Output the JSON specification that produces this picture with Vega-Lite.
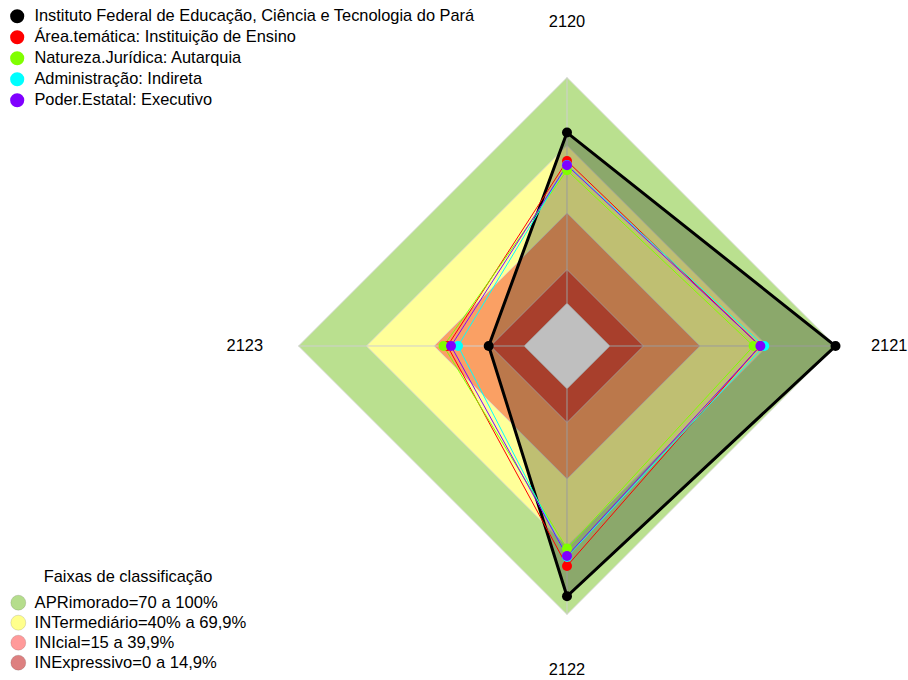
{
  "$schema": "https://vega.github.io/schema/vega-lite/v6.json",
  "width": 908,
  "height": 680,
  "autosize": {"type": "none"},
  "padding": 0,
  "background": "white",
  "config": {"view": {"stroke": null}, "font": "Liberation Sans"},
  "datasets": {
    "faixas": [
      {"faixa": "APR", "eixo": "2120", "limite": 100},
      {"faixa": "APR", "eixo": "2121", "limite": 100},
      {"faixa": "APR", "eixo": "2122", "limite": 100},
      {"faixa": "APR", "eixo": "2123", "limite": 100},
      {"faixa": "INT", "eixo": "2120", "limite": 69.9},
      {"faixa": "INT", "eixo": "2121", "limite": 69.9},
      {"faixa": "INT", "eixo": "2122", "limite": 69.9},
      {"faixa": "INT", "eixo": "2123", "limite": 69.9},
      {"faixa": "INI", "eixo": "2120", "limite": 39.9},
      {"faixa": "INI", "eixo": "2121", "limite": 39.9},
      {"faixa": "INI", "eixo": "2122", "limite": 39.9},
      {"faixa": "INI", "eixo": "2123", "limite": 39.9},
      {"faixa": "INE", "eixo": "2120", "limite": 14.9},
      {"faixa": "INE", "eixo": "2121", "limite": 14.9},
      {"faixa": "INE", "eixo": "2122", "limite": 14.9},
      {"faixa": "INE", "eixo": "2123", "limite": 14.9},
      {"faixa": "centro", "eixo": "2120", "limite": 0},
      {"faixa": "centro", "eixo": "2121", "limite": 0},
      {"faixa": "centro", "eixo": "2122", "limite": 0},
      {"faixa": "centro", "eixo": "2123", "limite": 0}
    ],
    "series": [
      {"serie": "Instituto Federal de Educação, Ciência e Tecnologia do Pará", "eixo": "2120", "valor": 75.6},
      {"serie": "Instituto Federal de Educação, Ciência e Tecnologia do Pará", "eixo": "2121", "valor": 100},
      {"serie": "Instituto Federal de Educação, Ciência e Tecnologia do Pará", "eixo": "2122", "valor": 91.9},
      {"serie": "Instituto Federal de Educação, Ciência e Tecnologia do Pará", "eixo": "2123", "valor": 15.7},
      {"serie": "Área.temática: Instituição de Ensino", "eixo": "2120", "valor": 63.0},
      {"serie": "Área.temática: Instituição de Ensino", "eixo": "2121", "valor": 66.5},
      {"serie": "Área.temática: Instituição de Ensino", "eixo": "2122", "valor": 78.5},
      {"serie": "Área.temática: Instituição de Ensino", "eixo": "2123", "valor": 34.0},
      {"serie": "Natureza.Jurídica: Autarquia", "eixo": "2120", "valor": 58.9},
      {"serie": "Natureza.Jurídica: Autarquia", "eixo": "2121", "valor": 63.7},
      {"serie": "Natureza.Jurídica: Autarquia", "eixo": "2122", "valor": 70.8},
      {"serie": "Natureza.Jurídica: Autarquia", "eixo": "2123", "valor": 35.7},
      {"serie": "Administração: Indireta", "eixo": "2120", "valor": 61.2},
      {"serie": "Administração: Indireta", "eixo": "2121", "valor": 68.4},
      {"serie": "Administração: Indireta", "eixo": "2122", "valor": 74.5},
      {"serie": "Administração: Indireta", "eixo": "2123", "valor": 29.3},
      {"serie": "Poder.Estatal: Executivo", "eixo": "2120", "valor": 61.1},
      {"serie": "Poder.Estatal: Executivo", "eixo": "2121", "valor": 66.7},
      {"serie": "Poder.Estatal: Executivo", "eixo": "2122", "valor": 74.1},
      {"serie": "Poder.Estatal: Executivo", "eixo": "2123", "valor": 32.4}
    ],
    "eixos": [
      {"eixo": "2120"},
      {"eixo": "2121"},
      {"eixo": "2122"},
      {"eixo": "2123"}
    ],
    "legendaFaixas": [
      {"faixa": "APRimorado=70 a 100%"},
      {"faixa": "INTermediário=40% a 69,9%"},
      {"faixa": "INIcial=15 a 39,9%"},
      {"faixa": "INExpressivo=0 a 14,9%"}
    ]
  },
  "layer": [
    {
      "data": {"name": "faixas"},
      "transform": [
        {"calculate": "indexof(['2120','2121','2122','2123'], datum.eixo) * PI / 2", "as": "ang"},
        {"calculate": "sin(datum.ang) * (datum.limite + 19) / 119", "as": "px"},
        {"calculate": "cos(datum.ang) * (datum.limite + 19) / 119", "as": "py"}
      ],
      "mark": {"type": "line", "interpolate": "linear-closed", "filled": true, "stroke": "#d6d6d6", "strokeWidth": 0.8},
      "encoding": {
        "x": {"field": "px", "type": "quantitative", "scale": {"domain": [-2.11173, 1.27002], "nice": false, "zero": false}, "axis": null},
        "y": {"field": "py", "type": "quantitative", "scale": {"domain": [-1.24395, 1.28864], "nice": false, "zero": false}, "axis": null},
        "color": {"field": "faixa", "type": "nominal", "scale": {"domain": ["APR", "INT", "INI", "INE", "centro"], "range": ["#bae08f", "#ffff99", "#faa064", "#e0553b", "#ffffff"]}, "legend": null},
        "order": {"field": "ang", "type": "quantitative"}
      }
    },
    {
      "data": {"name": "eixos"},
      "transform": [
        {"calculate": "indexof(['2120','2121','2122','2123'], datum.eixo) * PI / 2", "as": "ang"},
        {"calculate": "sin(datum.ang) * 19 / 119", "as": "x0"},
        {"calculate": "cos(datum.ang) * 19 / 119", "as": "y0"},
        {"calculate": "sin(datum.ang)", "as": "x1"},
        {"calculate": "cos(datum.ang)", "as": "y1"}
      ],
      "mark": {"type": "rule", "color": "#cfcfcf", "strokeWidth": 1},
      "encoding": {
        "x": {"field": "x0", "type": "quantitative"},
        "y": {"field": "y0", "type": "quantitative"},
        "x2": {"field": "x1"},
        "y2": {"field": "y1"}
      }
    },
    {
      "data": {"name": "series"},
      "transform": [
        {"filter": "datum.serie == 'Instituto Federal de Educação, Ciência e Tecnologia do Pará'"},
        {"calculate": "indexof(['2120','2121','2122','2123'], datum.eixo) * PI / 2", "as": "ang"},
        {"calculate": "sin(datum.ang) * (datum.valor + 19) / 119", "as": "px"},
        {"calculate": "cos(datum.ang) * (datum.valor + 19) / 119", "as": "py"}
      ],
      "mark": {"type": "line", "interpolate": "linear-closed", "stroke": "#000000", "strokeWidth": 3, "fill": "#000000", "fillOpacity": 0.25},
      "encoding": {
        "x": {"field": "px", "type": "quantitative"},
        "y": {"field": "py", "type": "quantitative"},
        "order": {"field": "ang", "type": "quantitative"}
      }
    },
    {
      "data": {"name": "series"},
      "transform": [
        {"filter": "datum.serie != 'Instituto Federal de Educação, Ciência e Tecnologia do Pará'"},
        {"calculate": "indexof(['2120','2121','2122','2123'], datum.eixo) * PI / 2", "as": "ang"},
        {"calculate": "sin(datum.ang) * (datum.valor + 19) / 119", "as": "px"},
        {"calculate": "cos(datum.ang) * (datum.valor + 19) / 119", "as": "py"}
      ],
      "mark": {"type": "line", "interpolate": "linear-closed", "strokeWidth": 1},
      "encoding": {
        "x": {"field": "px", "type": "quantitative"},
        "y": {"field": "py", "type": "quantitative"},
        "color": {"field": "serie", "type": "nominal", "scale": {"domain": ["Instituto Federal de Educação, Ciência e Tecnologia do Pará", "Área.temática: Instituição de Ensino", "Natureza.Jurídica: Autarquia", "Administração: Indireta", "Poder.Estatal: Executivo"], "range": ["#000000", "#ff0000", "#80ff00", "#00ffff", "#8000ff"]}, "legend": null},
        "order": {"field": "ang", "type": "quantitative"}
      }
    },
    {
      "data": {"name": "series"},
      "transform": [
        {"calculate": "indexof(['2120','2121','2122','2123'], datum.eixo) * PI / 2", "as": "ang"},
        {"calculate": "sin(datum.ang) * (datum.valor + 19) / 119", "as": "px"},
        {"calculate": "cos(datum.ang) * (datum.valor + 19) / 119", "as": "py"}
      ],
      "mark": {"type": "point", "filled": true, "opacity": 1, "size": 100},
      "encoding": {
        "x": {"field": "px", "type": "quantitative"},
        "y": {"field": "py", "type": "quantitative"},
        "color": {
          "field": "serie", "type": "nominal",
          "scale": {"domain": ["Instituto Federal de Educação, Ciência e Tecnologia do Pará", "Área.temática: Instituição de Ensino", "Natureza.Jurídica: Autarquia", "Administração: Indireta", "Poder.Estatal: Executivo"], "range": ["#000000", "#ff0000", "#80ff00", "#00ffff", "#8000ff"]},
          "legend": {"orient": "none", "legendX": 9, "legendY": 8, "title": null, "symbolType": "circle", "symbolSize": 200, "symbolStrokeWidth": 0, "symbolOpacity": 1, "labelFontSize": 16.4, "labelFont": "Liberation Sans", "labelColor": "#000000", "labelLimit": 700, "labelOffset": 9, "rowPadding": 4.0, "padding": 0}
        }
      }
    },
    {
      "data": {"name": "eixos"},
      "transform": [
        {"calculate": "indexof(['2120','2121','2122','2123'], datum.eixo) * PI / 2", "as": "ang"},
        {"calculate": "sin(datum.ang) * 1.2", "as": "lx"},
        {"calculate": "cos(datum.ang) * 1.205", "as": "ly"}
      ],
      "mark": {"type": "text", "fontSize": 16.4, "font": "Liberation Sans", "color": "#000000", "align": "center", "baseline": "middle"},
      "encoding": {
        "x": {"field": "lx", "type": "quantitative"},
        "y": {"field": "ly", "type": "quantitative"},
        "text": {"field": "eixo"}
      }
    },
    {
      "data": {"name": "legendaFaixas"},
      "mark": {"type": "point", "filled": true, "size": 0},
      "encoding": {
        "color": {
          "field": "faixa", "type": "nominal",
          "scale": {"domain": ["APRimorado=70 a 100%", "INTermediário=40% a 69,9%", "INIcial=15 a 39,9%", "INExpressivo=0 a 14,9%"], "range": ["#b5dd8c", "#ffff8c", "#ff9a9a", "#dd8080"]},
          "legend": {"orient": "none", "legendX": 10, "legendY": 569, "title": "Faixas de classificação", "titleFontSize": 16.4, "titleFont": "Liberation Sans", "titleFontWeight": "normal", "titleColor": "#000000", "titleAnchor": "middle", "titlePadding": 9, "symbolType": "circle", "symbolSize": 225, "symbolOpacity": 1, "symbolStrokeColor": "rgba(0,0,0,0.12)", "symbolStrokeWidth": 1, "labelFontSize": 16.6, "labelFont": "Liberation Sans", "labelColor": "#000000", "labelLimit": 700, "labelOffset": 8, "rowPadding": 0, "padding": 0}
        }
      }
    }
  ],
  "resolve": {"scale": {"color": "independent"}, "legend": {"color": "independent"}}
}
